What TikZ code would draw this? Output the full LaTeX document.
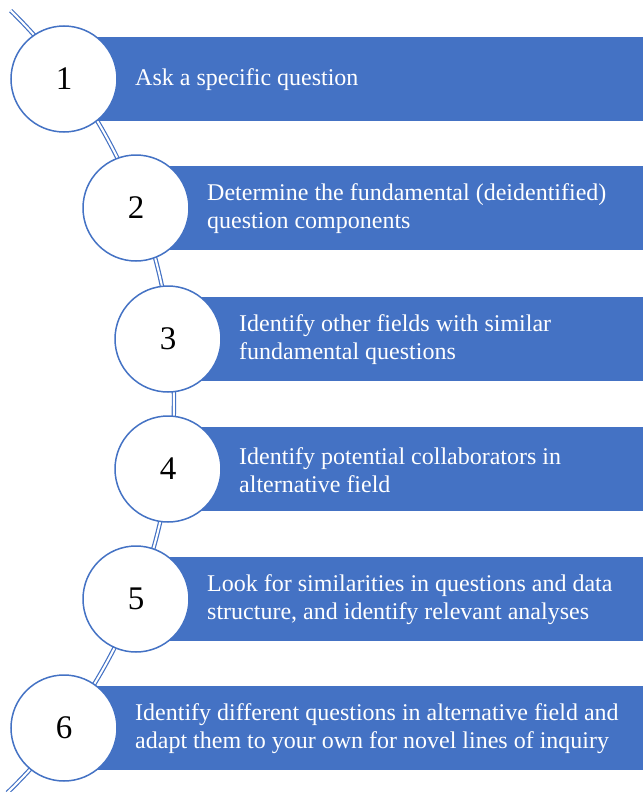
\documentclass[tikz,border=0pt]{standalone}
\usepackage{fontspec}
\setmainfont{Liberation Serif}
\usepackage{xcolor}
\usetikzlibrary{positioning}
\definecolor{stepblue}{HTML}{4472C4}
\tikzset{
  numcircle/.style={circle, draw=stepblue, line width=1.5pt, fill=white,
    minimum size=106pt, inner sep=0pt, font=\fontsize{33}{38}\selectfont},
  bartext/.style={anchor=west, align=left, text=white, inner sep=0pt,
    font=\fontsize{24}{28}\selectfont},
  barfill/.style={fill=stepblue},
  spine/.style={draw=stepblue, line width=1.2pt, double=white, double distance=2pt}
}

\begin{document}
\begin{tikzpicture}[x=1pt,y=-1pt]
\useasboundingbox (0,0) rectangle (643,792);
% curved spine behind everything
\begin{scope}
\clip (0,0) rectangle (643,792);
\draw[spine] (-372,400) ++(-45.5:546) arc[start angle=-45.5, end angle=46, radius=546];
\end{scope}
% bars
\fill[barfill] (64,37) rectangle (643,121);
\fill[barfill] (136,166) rectangle (643,250);
\fill[barfill] (168,297) rectangle (643,381);
\fill[barfill] (168,427) rectangle (643,511);
\fill[barfill] (136,557) rectangle (643,641);
\fill[barfill] (64,686) rectangle (643,770);
% numbered circles
\node[numcircle] (n1) at (64,79) {1};
\node[numcircle] (n2) at (136,208) {2};
\node[numcircle] (n3) at (168,339) {3};
\node[numcircle] (n4) at (168,469) {4};
\node[numcircle] (n5) at (136,599) {5};
\node[numcircle] (n6) at (64,728) {6};
% texts
\node[bartext] (t1) at (135,80) {Ask a specific question};
\node[bartext] (t2) at (207,209) {Determine the fundamental (deidentified)\\question components};
\node[bartext] (t3) at (239,340) {Identify other fields with similar\\fundamental questions};
\node[bartext] (t4) at (239,470) {Identify potential collaborators in\\alternative field};
\node[bartext] (t5) at (207,600) {Look for similarities in questions and data\\structure, and identify relevant analyses};
\node[bartext] (t6) at (135,729) {Identify different questions in alternative field and\\adapt them to your own for novel lines of inquiry};
\end{tikzpicture}
\end{document}
